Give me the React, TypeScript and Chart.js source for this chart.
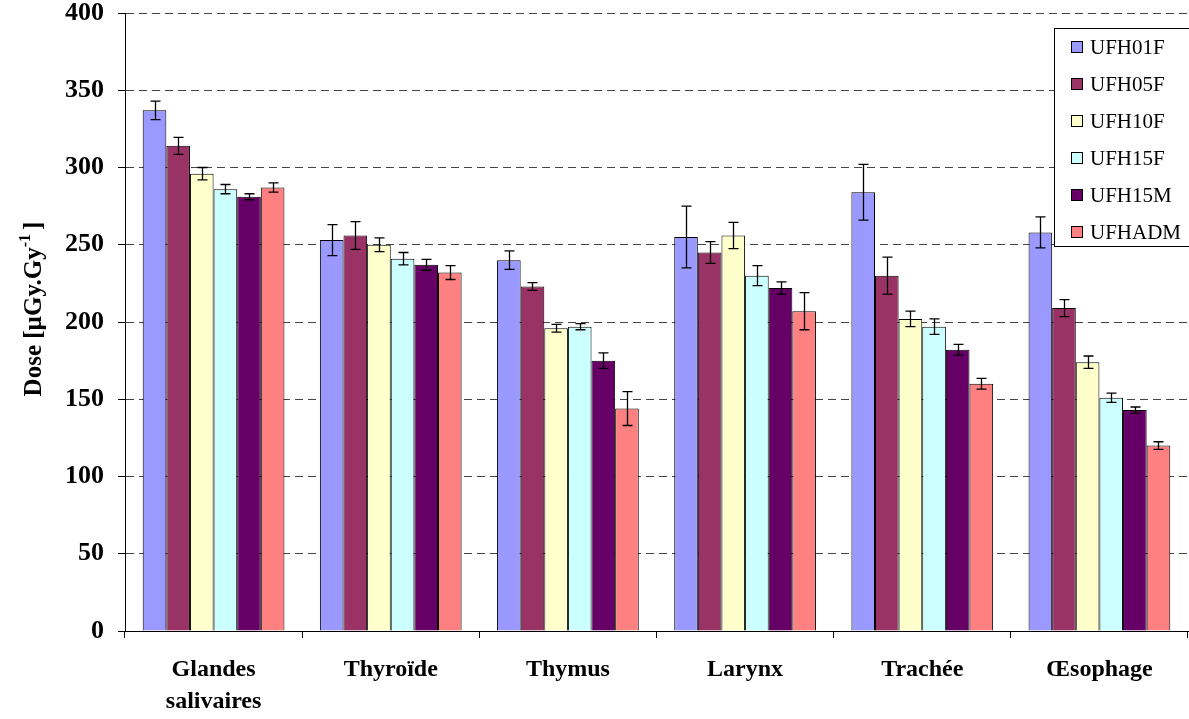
import React, { useEffect, useRef } from "react";
import { Chart, registerables } from "chart.js";

Chart.register(...registerables);

const categories: string[][] = [
  ["Glandes", "salivaires"],
  ["Thyroïde"],
  ["Thymus"],
  ["Larynx"],
  ["Trachée"],
  ["Œsophage"],
];

const seriesNames = ["UFH01F", "UFH05F", "UFH10F", "UFH15F", "UFH15M", "UFHADM"];
const seriesColors = ["#9999FF", "#993366", "#FFFFCC", "#CCFFFF", "#660066", "#FF8080"];

const UFH01F = [337, 253, 240, 255, 284, 258];
const UFH05F = [314, 256, 223, 245, 230, 209];
const UFH10F = [296, 250, 196, 256, 202, 174];
const UFH15F = [286, 241, 197, 230, 197, 151];
const UFH15M = [281, 237, 175, 222, 182, 143];
const UFHADM = [287, 232, 144, 207, 160, 120];

const UFH01F_err = [6, 10, 6, 20, 18, 10];
const UFH05F_err = [5.5, 9, 2.5, 7, 12, 5.5];
const UFH10F_err = [4, 4.5, 2.5, 8.5, 5, 4];
const UFH15F_err = [3, 4, 2, 6.5, 5, 3];
const UFH15M_err = [2, 3.5, 5, 4, 3.5, 2];
const UFHADM_err = [3, 4.5, 11, 12, 3.5, 2.5];

const seriesValues = [UFH01F, UFH05F, UFH10F, UFH15F, UFH15M, UFHADM];
const seriesErrors = [UFH01F_err, UFH05F_err, UFH10F_err, UFH15F_err, UFH15M_err, UFHADM_err];

const yTicks = [0, 50, 100, 150, 200, 250, 300, 350, 400];

const SERIF = '"Times New Roman", "Liberation Serif", serif';

const errorBarPlugin = {
  id: "errorBars",
  afterDatasetsDraw(chart: any) {
    const ctx = chart.ctx;
    const y = chart.scales.y;
    ctx.save();
    ctx.strokeStyle = "#000";
    ctx.lineWidth = 1.3;
    chart.data.datasets.forEach((ds: any, i: number) => {
      const meta = chart.getDatasetMeta(i);
      meta.data.forEach((el: any, j: number) => {
        const v = ds.data[j];
        const e = ds.errors[j];
        const x = Math.round(el.x) + 0.5;
        const yt = y.getPixelForValue(v + e);
        const yb = y.getPixelForValue(v - e);
        ctx.beginPath();
        ctx.moveTo(x, yt);
        ctx.lineTo(x, yb);
        ctx.moveTo(x - 5, yt);
        ctx.lineTo(x + 5, yt);
        ctx.moveTo(x - 5, yb);
        ctx.lineTo(x + 5, yb);
        ctx.stroke();
      });
    });
    ctx.restore();
  },
};

const legendPlugin = {
  id: "boxLegend",
  afterDraw(chart: any) {
    const ctx = chart.ctx;
    const left = 1054.5;
    const top = 28.5;
    const w = 150;
    const h = 218;
    ctx.save();
    ctx.fillStyle = "#fff";
    ctx.fillRect(left, top, w, h);
    ctx.strokeStyle = "#000";
    ctx.lineWidth = 1;
    ctx.strokeRect(left, top, w, h);
    ctx.font = `21px ${SERIF}`;
    ctx.textBaseline = "middle";
    ctx.textAlign = "left";
    chart.data.datasets.forEach((ds: any, i: number) => {
      const cy = 47 + i * 37;
      ctx.fillStyle = ds.backgroundColor;
      ctx.fillRect(1071, cy - 6, 12, 12);
      ctx.strokeStyle = "#000";
      ctx.strokeRect(1071.5, cy - 5.5, 11, 11);
      ctx.fillStyle = "#000";
      ctx.fillText(ds.label, 1090, cy + 1);
    });
    ctx.restore();
  },
};

const yTitlePlugin = {
  id: "yTitle",
  afterDraw(chart: any) {
    const ctx = chart.ctx;
    ctx.save();
    ctx.translate(41, 309);
    ctx.rotate(-Math.PI / 2);
    ctx.fillStyle = "#000";
    ctx.textBaseline = "alphabetic";
    ctx.textAlign = "left";
    const main = "Dose [µGy.Gy";
    const sup = "-1";
    const end = "]";
    const fMain = `bold 25px ${SERIF}`;
    const fSup = `bold 16px ${SERIF}`;
    ctx.font = fMain;
    const wMain = ctx.measureText(main).width;
    const wEnd = ctx.measureText(end).width;
    ctx.font = fSup;
    const wSup = ctx.measureText(sup).width;
    const gap = 4;
    const total = wMain + wSup + gap + wEnd;
    let x = -total / 2;
    ctx.font = fMain;
    ctx.fillText(main, x, 0);
    x += wMain;
    ctx.font = fSup;
    ctx.fillText(sup, x, -11);
    x += wSup + gap;
    ctx.font = fMain;
    ctx.fillText(end, x, 0);
    ctx.restore();
  },
};

export default function App() {
  const ref = useRef<HTMLCanvasElement>(null);
  useEffect(() => {
    if (!ref.current) return;
    const chart = new Chart(ref.current, {
      type: "bar",
      data: {
        labels: categories,
        datasets: seriesNames.map((name, i) => ({
          label: name,
          data: seriesValues[i],
          errors: seriesErrors[i],
          backgroundColor: seriesColors[i],
          borderColor: "#000",
          borderWidth: 1,
          categoryPercentage: 0.8,
          barPercentage: 1,
        })) as any,
      },
      options: {
        responsive: false,
        animation: false,
        devicePixelRatio: 1,
        layout: { padding: { top: 13, right: 1, left: 0, bottom: 0 } },
        plugins: {
          legend: { display: false },
          tooltip: { enabled: false },
          title: { display: false },
        },
        scales: {
          x: {
            grid: {
              display: true,
              drawOnChartArea: false,
              drawTicks: true,
              tickLength: 7,
              tickColor: "#000",
              offset: true,
            },
            border: { display: true, color: "#000", width: 1 },
            ticks: {
              color: "#000",
              padding: 16,
              maxRotation: 0,
              autoSkip: false,
              font: { family: SERIF, size: 24, weight: "bold", lineHeight: 1.333 },
            },
            afterFit: (scale: any) => {
              scale.height = 88;
              scale.paddingLeft = 0;
              scale.paddingRight = 0;
            },
          },
          y: {
            min: 0,
            max: 400,
            afterBuildTicks: (scale: any) => {
              scale.ticks = yTicks.map((v) => ({ value: v }));
            },
            grid: {
              color: "#444",
              lineWidth: 1,
              drawTicks: true,
              tickLength: 7,
              tickColor: "#000",
              tickWidth: 1,
            },
            border: { display: true, color: "#000", width: 1, dash: [8, 5] },
            ticks: {
              color: "#000",
              padding: 14,
              font: { family: SERIF, size: 26, weight: "bold" },
            },
            afterFit: (scale: any) => {
              scale.width = 125;
              scale.paddingTop = 0;
              scale.paddingBottom = 0;
            },
          },
        },
      },
      plugins: [errorBarPlugin, legendPlugin, yTitlePlugin],
    } as any);
    return () => chart.destroy();
  }, []);
  return (
    <div style={{ position: "fixed", left: 0, top: 0, width: 1189, height: 719, background: "#fff" }}>
      <canvas ref={ref} width={1189} height={719} style={{ display: "block" }} />
    </div>
  );
}
